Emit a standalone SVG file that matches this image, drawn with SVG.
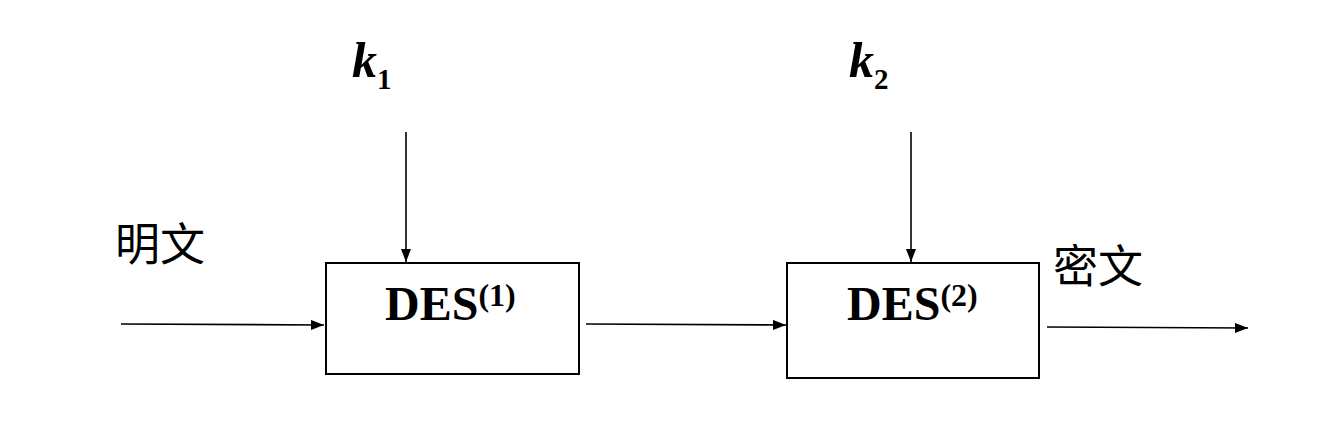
<svg xmlns="http://www.w3.org/2000/svg" width="1333" height="428" viewBox="0 0 1333 428">
<style>
.box{fill:#fff;stroke:#000;stroke-width:2}
.ln{stroke:#000;stroke-width:1.6;fill:none;marker-end:url(#ah)}
.des{font-family:"Liberation Serif","Times New Roman",serif;font-weight:bold;font-size:48px;fill:#000}
.sup{font-size:32px}
.k{font-family:"Liberation Serif","Times New Roman",serif;font-weight:bold;font-size:50px;fill:#000}
.cn{font-family:"Liberation Serif","Noto Sans CJK SC",serif;font-size:45px;fill:#000}
</style>
<defs>
<marker id="ah" markerWidth="13" markerHeight="10" refX="13" refY="5" orient="auto" markerUnits="userSpaceOnUse">
<path d="M0,0 L13,5 L0,10 z" fill="#000"/>
</marker>
</defs>
<g id="connectors">
<line class="ln" x1="121" y1="324" x2="324" y2="325"/>
<line class="ln" x1="586" y1="324" x2="786" y2="325"/>
<line class="ln" x1="1047" y1="327" x2="1248" y2="328"/>
<line class="ln" x1="406" y1="132" x2="406" y2="262"/>
<line class="ln" x1="911" y1="132" x2="911" y2="262"/>
</g>
<g id="des1">
<rect class="box" x="326" y="263" width="253" height="111"/>
<text class="des" x="385" y="320">DES<tspan class="sup" dy="-14">(1)</tspan></text>
</g>
<g id="des2">
<rect class="box" x="787" y="263" width="252" height="115"/>
<text class="des" x="847" y="320">DES<tspan class="sup" dy="-14">(2)</tspan></text>
</g>
<g id="k1">
<text class="k" x="352" y="77"><tspan font-style="italic">k</tspan><tspan font-size="29px" dy="12">1</tspan></text>
</g>
<g id="k2">
<text class="k" x="849" y="77"><tspan font-style="italic">k</tspan><tspan font-size="29px" dy="12">2</tspan></text>
</g>
<g id="plaintext">
<text class="cn" x="115" y="261">明文</text>
</g>
<g id="ciphertext">
<text class="cn" x="1053" y="283">密文</text>
</g>
</svg>
